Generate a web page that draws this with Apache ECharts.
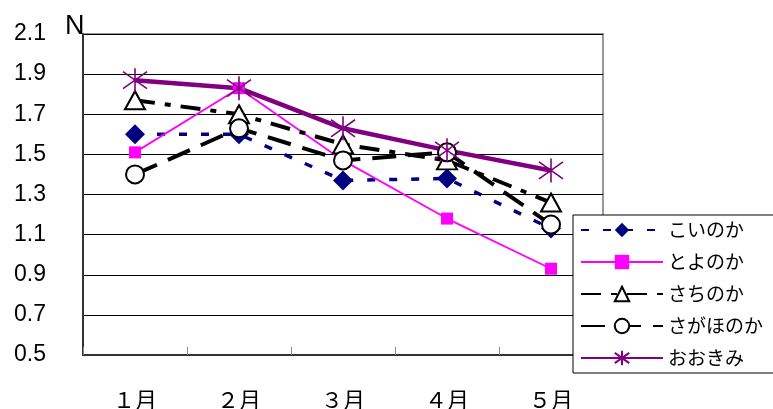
<!DOCTYPE html>
<html>
<head>
<meta charset="utf-8">
<script src="https://cdn.jsdelivr.net/npm/echarts@6/dist/echarts.min.js"></script>
<style>html,body{margin:0;padding:0;background:#fff}#c{width:773px;height:409px}</style>
</head>
<body>
<div id="c"></div>
<script>
const categories = ['１月', '２月', '３月', '４月', '５月'];
const seriesNames = ['こいのか', 'とよのか', 'さちのか', 'さがほのか', 'おおきみ'];
const koinoka = [1.60, 1.60, 1.37, 1.38, 1.13];
const toyonoka = [1.51, 1.83, 1.47, 1.18, 0.93];
const sachinoka = [1.77, 1.70, 1.55, 1.47, 1.26];
const sagahonoka = [1.40, 1.63, 1.47, 1.51, 1.15];
const ookimi = [1.87, 1.83, 1.63, 1.52, 1.42];
const yMin = 0.5, yMax = 2.1, yStep = 0.2;

const starPath = 'path://M10 0 L10 20 M2.9 2.9 L17.1 17.1 M17.1 2.9 L2.9 17.1';

const chart = echarts.init(document.getElementById('c'), null, {renderer: 'canvas'});
chart.setOption({
  animation: false,
  backgroundColor: '#fff',
  title: {
    text: 'N', left: 60, top: 8,
    textStyle: {fontFamily: 'Liberation Sans', fontSize: 27, fontWeight: 'normal', color: '#000'}
  },
  grid: {left: 83, top: 34, width: 520, height: 321, show: true, borderColor: '#999', borderWidth: 2,
    backgroundColor: 'transparent', containLabel: false, outerBoundsMode: 'none'},
  legend: {
    orient: 'vertical', left: 573, top: 215,
    padding: [5, 30, 5, 7],
    itemWidth: 82, itemHeight: 18, itemGap: 12,
    backgroundColor: '#fff', borderColor: '#000', borderWidth: 1,
    textStyle: {fontFamily: 'Noto Sans CJK JP', fontSize: 19, color: '#000', lineHeight: 20},
    data: seriesNames
  },
  xAxis: {
    type: 'category', data: categories, boundaryGap: true,
    axisLine: {lineStyle: {color: '#333', width: 2}},
    axisTick: {show: true, inside: true, length: 8, lineStyle: {color: '#888'}},
    axisLabel: {fontFamily: 'Noto Sans CJK JP', fontSize: 22, color: '#000', margin: 34}
  },
  yAxis: {
    type: 'value', min: yMin, max: yMax, interval: yStep,
    axisLine: {show: true, lineStyle: {color: '#333', width: 2}},
    axisTick: {show: false},
    splitLine: {lineStyle: {color: '#000', width: 1}},
    axisLabel: {fontFamily: 'Liberation Sans', fontSize: 23, color: '#000', margin: 37,
      formatter: v => v.toFixed(1)}
  },
  series: [
    {
      name: seriesNames[0], type: 'line', data: koinoka,
      symbol: 'diamond', symbolSize: 20,
      lineStyle: {color: '#000080', width: 3.5, type: [8, 14]},
      itemStyle: {color: '#000080'}
    },
    {
      name: seriesNames[1], type: 'line', data: toyonoka,
      symbol: 'rect', symbolSize: 12,
      lineStyle: {color: '#ff00ff', width: 1.8},
      itemStyle: {color: '#ff00ff'}
    },
    {
      name: seriesNames[2], type: 'line', data: sachinoka,
      symbol: 'triangle', symbolSize: [20, 18],
      lineStyle: {color: '#000', width: 4, type: [20, 10, 6, 10]},
      itemStyle: {color: '#fff', borderColor: '#000', borderWidth: 2}
    },
    {
      name: seriesNames[3], type: 'line', data: sagahonoka,
      symbol: 'circle', symbolSize: 18,
      lineStyle: {color: '#000', width: 4, type: [24, 12]},
      itemStyle: {color: '#fff', borderColor: '#000', borderWidth: 2}
    },
    {
      name: seriesNames[4], type: 'line', data: ookimi,
      symbol: starPath, symbolSize: 24,
      lineStyle: {color: '#800080', width: 4.5},
      itemStyle: {color: '#800080', borderColor: '#800080', borderWidth: 1.6}
    }
  ]
});
</script>
</body>
</html>
